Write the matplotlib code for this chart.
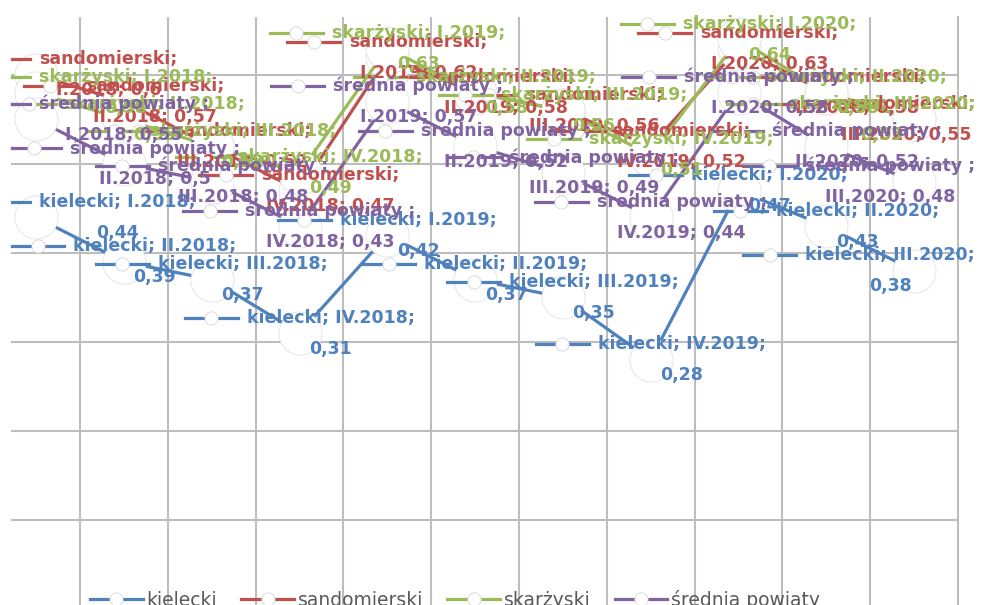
import matplotlib
matplotlib.use("Agg")
import matplotlib.pyplot as plt
import numpy as np
from matplotlib.lines import Line2D
from matplotlib.transforms import IdentityTransform

# kwartały
categories = ['I.2018', 'II.2018', 'III.2018', 'IV.2018',
              'I.2019', 'II.2019', 'III.2019', 'IV.2019',
              'I.2020', 'II.2020', 'III.2020']

# wartości serii
kielecki = [0.44, 0.39, 0.37, 0.31, 0.42, 0.37, 0.35, 0.28, 0.47, 0.43, 0.38]
sandomierski = [0.60, 0.57, 0.52, 0.47, 0.62, 0.58, 0.56, 0.52, 0.63, 0.58, 0.55]
skarzyski = [0.58, 0.55, 0.52, 0.49, 0.63, 0.58, 0.56, 0.51, 0.64, 0.58, 0.55]
srednia = [0.55, 0.50, 0.48, 0.43, 0.57, 0.52, 0.49, 0.44, 0.58, 0.52, 0.48]

names = ['kielecki', 'sandomierski', 'skarżyski', 'średnia powiaty ']
colors = ['#4F81BD', '#C0504D', '#9BBB59', '#8064A2']
series = [kielecki, sandomierski, skarzyski, srednia]

W, H = 981, 605
FS = 12.5
fig = plt.figure(figsize=(W / 100, H / 100), dpi=100)
ax = fig.add_axes([11 / W, 0, 947 / W, 588 / H])

x = np.arange(len(categories))
for name, vals, col in zip(names, series, colors):
    ax.plot(x, vals, color=col, lw=2.3, marker='o', ms=31,
            mfc='white', mec='#e2e2e2', mew=0.6, solid_capstyle='butt')

ax.set_xlim(-0.286, 10.5)
ax.set_ylim(0.0045, 0.665)
ax.set_xticks(np.arange(0.5, 10.5, 1))
ax.set_yticks([0.1, 0.2, 0.3, 0.4, 0.5, 0.6])
ax.grid(True, color='#bdbdbd', lw=1.5)
ax.set_axisbelow(True)
ax.tick_params(length=0, labelbottom=False, labelleft=False)
for sp in ['top', 'left', 'bottom']:
    ax.spines[sp].set_visible(False)
ax.spines['right'].set_color('#bdbdbd')
ax.spines['right'].set_linewidth(1.5)

# etykiety danych z kluczem legendy
fig.canvas.draw()
r = fig.canvas.get_renderer()
ident = IdentityTransform()
KEY_W, GAP, HALF = 53, 9, 15.5
for name, vals, col in zip(names, series, colors):
    for i, (cat, v) in enumerate(zip(categories, vals)):
        val = f"{v:g}".replace('.', ',')
        full = f"{name}; {cat};"
        if len(full) > 20:
            l1, l2 = f"{name};", f"{cat}; {val}"
        else:
            l1, l2 = full, val
        px, py = ax.transData.transform((i, v))
        t1 = fig.text(0, 0, l1, transform=ident, ha='center', va='center',
                      color=col, fontsize=FS, fontweight='bold')
        t2 = fig.text(0, 0, l2, transform=ident, ha='center', va='center',
                      color=col, fontsize=FS, fontweight='bold')
        w = max(t1.get_window_extent(r).width, t2.get_window_extent(r).width)
        bw = KEY_W + GAP + w
        left = min(max(px - bw / 2, -23), W - 6 - bw)
        tx = left + KEY_W + GAP + w / 2
        t1.set_position((tx, py + HALF))
        t2.set_position((tx, py - HALF))
        # obszar wykresu ucina klucz z lewej strony
        fig.add_artist(Line2D([max(left, 12), left + KEY_W], [py + HALF] * 2,
                              transform=ident, color=col, lw=2.3))
        if left + KEY_W / 2 >= 12:
            fig.add_artist(Line2D([left + KEY_W / 2], [py + HALF],
                                  transform=ident, marker='o', ms=9.5,
                                  mfc='white', mec='#d5d5d5', mew=0.6,
                                  ls='none'))

handles = [Line2D([], [], color=c, lw=2.3, marker='o', ms=9.5, mfc='white',
                  mec='#d5d5d5', mew=0.6) for c in colors]
fig.legend(handles, [n.strip() for n in names], loc='center',
           bbox_to_anchor=(455 / W, 5 / H), ncol=4, frameon=False,
           fontsize=13.5, labelcolor='#595959', handlelength=2.8,
           handletextpad=0.2, columnspacing=1.3)

fig.savefig('out.png', dpi=100)
